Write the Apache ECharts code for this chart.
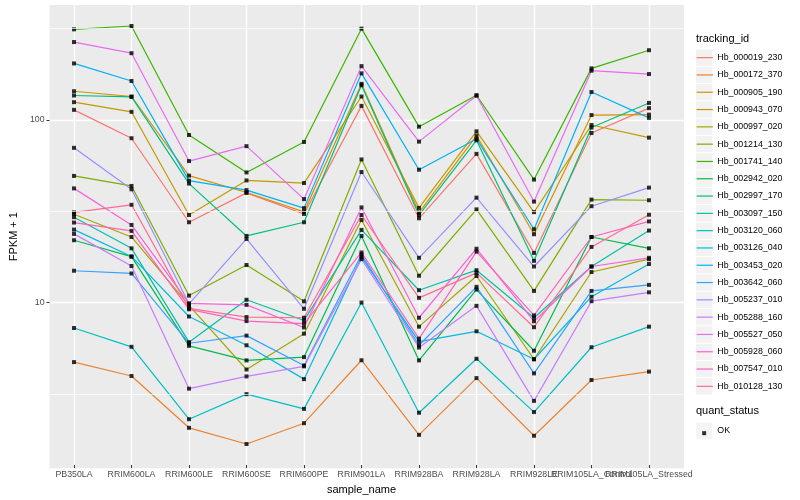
<!DOCTYPE html>
<html><head><meta charset="utf-8">
<script src="https://cdn.jsdelivr.net/npm/echarts@6/dist/echarts.min.js"></script>
<style>html,body{margin:0;padding:0;background:#fff}#c{width:800px;height:500px}</style>
</head><body><div id="c"></div>
<script>
// ---------- data ----------
const categories = ['PB350LA','RRIM600LA','RRIM600LE','RRIM600SE','RRIM600PE','RRIM901LA','RRIM928BA','RRIM928LA','RRIM928LE','RRIM105LA_Control','RRIM105LA_Stressed'];

const trackingIds = ['Hb_000019_230','Hb_000172_370','Hb_000905_190','Hb_000943_070','Hb_000997_020','Hb_001214_130','Hb_001741_140','Hb_002942_020','Hb_002997_170','Hb_003097_150','Hb_003120_060','Hb_003126_040','Hb_003453_020','Hb_003642_060','Hb_005237_010','Hb_005288_160','Hb_005527_050','Hb_005928_060','Hb_007547_010','Hb_010128_130'];

const seriesColors = ['#F8766D','#EA8331','#D89000','#C09B00','#A3A500','#7CAE00','#39B600','#00BB4E','#00BF7D','#00C1A3','#00BFC4','#00BAE0','#00B0F6','#35A2FF','#9590FF','#C77CFF','#E76BF3','#FA62DB','#FF62BC','#FF6C91'];

// FPKM + 1 per sample (same order as categories)
const hb_000019_230 = [112.4, 78.4, 27.0, 39.2, 30.0, 118.2, 28.4, 64.3, 18.3, 83.8, 114.9];
const hb_000172_370 = [4.58, 3.84, 1.99, 1.62, 2.11, 4.69, 1.82, 3.74, 1.80, 3.65, 4.06];
const hb_000905_190 = [142.3, 133.1, 48.8, 39.4, 30.8, 156.4, 30.5, 81.0, 23.2, 105.2, 105.8];
const hb_000943_070 = [123.9, 109.6, 29.6, 45.9, 44.4, 133.1, 32.4, 85.6, 30.7, 92.7, 79.0];
const hb_000997_020 = [29.9, 22.4, 9.41, 4.17, 6.57, 27.8, 7.18, 13.65, 4.75, 14.36, 16.9];
const hb_001214_130 = [48.6, 42.8, 10.65, 15.7, 9.9, 59.9, 13.7, 31.8, 11.3, 36.0, 35.7];
const hb_001741_140 = [312.1, 325.7, 81.7, 50.8, 74.8, 314.8, 90.8, 135.3, 46.4, 190.2, 239.5];
const hb_002942_020 = [21.5, 17.45, 5.63, 4.68, 4.88, 22.7, 4.68, 11.5, 5.29, 22.4, 19.4];
const hb_002997_170 = [134.8, 132.4, 44.1, 22.7, 27.0, 153.5, 29.6, 76.4, 16.55, 89.8, 122.7];
const hb_003097_150 = [28.8, 19.4, 5.90, 10.1, 7.77, 24.5, 11.4, 14.7, 8.04, 15.4, 24.3];
const hb_003120_060 = [7.06, 5.56, 2.22, 3.05, 2.53, 9.75, 2.41, 4.78, 2.43, 5.53, 7.18];
const hb_003126_040 = [24.6, 17.5, 8.17, 5.67, 3.69, 17.35, 5.94, 6.77, 4.75, 10.5, 15.9];
const hb_003453_020 = [202.5, 162.0, 45.8, 40.6, 32.3, 178.6, 52.6, 77.7, 24.7, 140.9, 101.5];
const hb_003642_060 = [14.6, 14.1, 5.82, 6.41, 4.39, 17.9, 5.67, 11.9, 3.97, 11.3, 12.2];
const hb_005237_010 = [69.4, 41.0, 9.59, 21.85, 9.01, 51.1, 17.2, 36.9, 15.4, 33.1, 41.9];
const hb_005288_160 = [23.3, 15.5, 3.27, 3.82, 4.34, 16.9, 5.51, 9.35, 2.80, 9.92, 11.1];
const hb_005527_050 = [265.6, 230.6, 58.7, 70.9, 36.2, 195.7, 75.1, 134.5, 35.1, 184.7, 177.0];
const hb_005928_060 = [41.5, 26.1, 9.65, 9.47, 7.11, 32.6, 8.04, 19.3, 7.69, 15.4, 17.2];
const hb_007547_010 = [26.9, 24.2, 8.95, 7.71, 7.46, 18.4, 6.17, 18.6, 8.28, 22.4, 27.3];
const hb_010128_130 = [30.6, 33.7, 9.06, 8.11, 8.04, 29.6, 10.35, 14.2, 7.13, 19.75, 29.7];

const seriesValues = [hb_000019_230, hb_000172_370, hb_000905_190, hb_000943_070, hb_000997_020, hb_001214_130, hb_001741_140, hb_002942_020, hb_002997_170, hb_003097_150, hb_003120_060, hb_003126_040, hb_003453_020, hb_003642_060, hb_005237_010, hb_005288_160, hb_005527_050, hb_005928_060, hb_007547_010, hb_010128_130];

const yTickLabels = [10, 100];
const yMinorBreaks = [3.1623, 31.623, 316.23];
const quantStatus = ['OK'];

// ---------- chart ----------
const FONT = '"Liberation Sans", Arial, Helvetica, sans-serif';
const Y_MIN = 1.24, Y_MAX = 425;
const chart = echarts.init(document.getElementById('c'), null, {renderer: 'canvas'});

const lineSeries = trackingIds.map((id, i) => ({
  name: id, type: 'line', xAxisIndex: 1, yAxisIndex: 1,
  data: seriesValues[i], showSymbol: false, symbol: 'rect',
  lineStyle: {color: seriesColors[i], width: 1.2},
  itemStyle: {color: seriesColors[i]},
  z: 2, silent: true
}));

const pointData = [];
seriesValues.forEach(arr => arr.forEach((v, j) => pointData.push([j, v])));

const isTick = v => yTickLabels.some(t => Math.abs(v - t) / t < 1e-6);

const KEY = 16.3;          // legend key size
const STEP = 17.3;         // key spacing
const LEG_TOP = 49.5;
const legendBase = {
  orient: 'vertical', left: 696, itemGap: STEP - KEY, selectedMode: false,
  itemWidth: KEY, itemHeight: KEY, padding: 0
};
// the line-legend icon's box is only 0.8*KEY tall (hidden symbol), centred
const lineIconH = 0.8 * KEY;

chart.setOption({
  animation: false,
  title: [
    {text: 'tracking_id', left: 696, top: 33, padding: 0,
     textStyle: {fontSize: 11, fontWeight: 'normal', color: '#000', fontFamily: FONT}},
    {text: 'quant_status', left: 696, top: 405, padding: 0,
     textStyle: {fontSize: 11, fontWeight: 'normal', color: '#000', fontFamily: FONT}}
  ],
  grid: [
    {left: 40, right: 116, top: 5, bottom: 31.7, show: true, backgroundColor: '#EBEBEB', borderWidth: 0},
    {left: 74, right: 151, top: 5, bottom: 31.7, show: false}
  ],
  xAxis: [
    {gridIndex: 0, type: 'value', min: 0, max: 1, show: false},
    {gridIndex: 1, type: 'category', data: categories, boundaryGap: false,
     axisLine: {show: false},
     axisTick: {show: true, length: 3, lineStyle: {color: '#333333', width: 1}},
     axisLabel: {interval: 0, margin: 5, fontSize: 8.8, color: '#4D4D4D', fontFamily: FONT, hideOverlap: false},
     splitLine: {show: true, lineStyle: {color: '#FFFFFF', width: 1.4}},
     name: 'sample_name', nameLocation: 'middle', nameGap: 13,
     nameTextStyle: {fontSize: 11, color: '#000', fontFamily: FONT}}
  ],
  yAxis: [
    {gridIndex: 0, type: 'log', logBase: 10, min: Y_MIN, max: Y_MAX,
     axisLine: {show: false},
     axisTick: {show: true, length: 3, lineStyle: {color: '#333333', width: 1}, customValues: yTickLabels},
     axisLabel: {margin: 5, fontSize: 8.8, color: '#4D4D4D', fontFamily: FONT, customValues: yTickLabels,
                 formatter: v => isTick(v) ? String(Math.round(v)) : ''},
     splitLine: {show: true, lineStyle: {color: '#FFFFFF', width: 1.4}},
     name: 'FPKM + 1', nameLocation: 'middle', nameGap: 20, nameRotate: 90,
     nameTextStyle: {fontSize: 11, color: '#000', fontFamily: FONT}},
    {gridIndex: 1, type: 'log', logBase: 10, min: Y_MIN, max: Y_MAX, show: false}
  ],
  legend: [
    Object.assign({}, legendBase, {top: LEG_TOP, data: trackingIds, icon: 'rect', z: 4,
      itemStyle: {color: '#F2F2F2', borderWidth: 0},
      textStyle: {fontSize: 8.8, color: '#000', fontFamily: FONT}}),
    Object.assign({}, legendBase, {top: LEG_TOP + (KEY - lineIconH) / 2, data: trackingIds, z: 5,
      itemGap: STEP - lineIconH,
      itemStyle: {opacity: 0, borderWidth: 0}, lineStyle: {width: 1.2},
      textStyle: {fontSize: 8.8, color: 'rgba(0,0,0,0)', fontFamily: FONT}}),
    Object.assign({}, legendBase, {top: 422.5, data: quantStatus, icon: 'rect', z: 4,
      itemStyle: {color: '#F2F2F2', borderWidth: 0},
      textStyle: {fontSize: 8.8, color: '#000', fontFamily: FONT}}),
    Object.assign({}, legendBase, {top: 422.5 + (KEY - 4) / 2, left: 696 + (KEY - 4) / 2, data: quantStatus, icon: 'rect', z: 5,
      itemWidth: 4, itemHeight: 4, itemStyle: {color: '#000000', borderWidth: 0},
      textStyle: {fontSize: 8.8, color: 'rgba(0,0,0,0)', fontFamily: FONT}})
  ],
  series: [
    {type: 'line', name: '_minor', xAxisIndex: 0, yAxisIndex: 0, data: [], silent: true, z: 1,
     markLine: {silent: true, symbol: 'none', animation: false, label: {show: false},
                lineStyle: {color: '#FFFFFF', width: 0.7, type: 'solid'},
                emphasis: {disabled: true},
                data: yMinorBreaks.map(v => ({yAxis: v}))}},
    ...lineSeries,
    {name: 'OK', type: 'scatter', xAxisIndex: 1, yAxisIndex: 1, data: pointData,
     symbol: 'rect', symbolSize: 4, itemStyle: {color: '#000000'}, z: 3, silent: true}
  ]
});
</script></body></html>
